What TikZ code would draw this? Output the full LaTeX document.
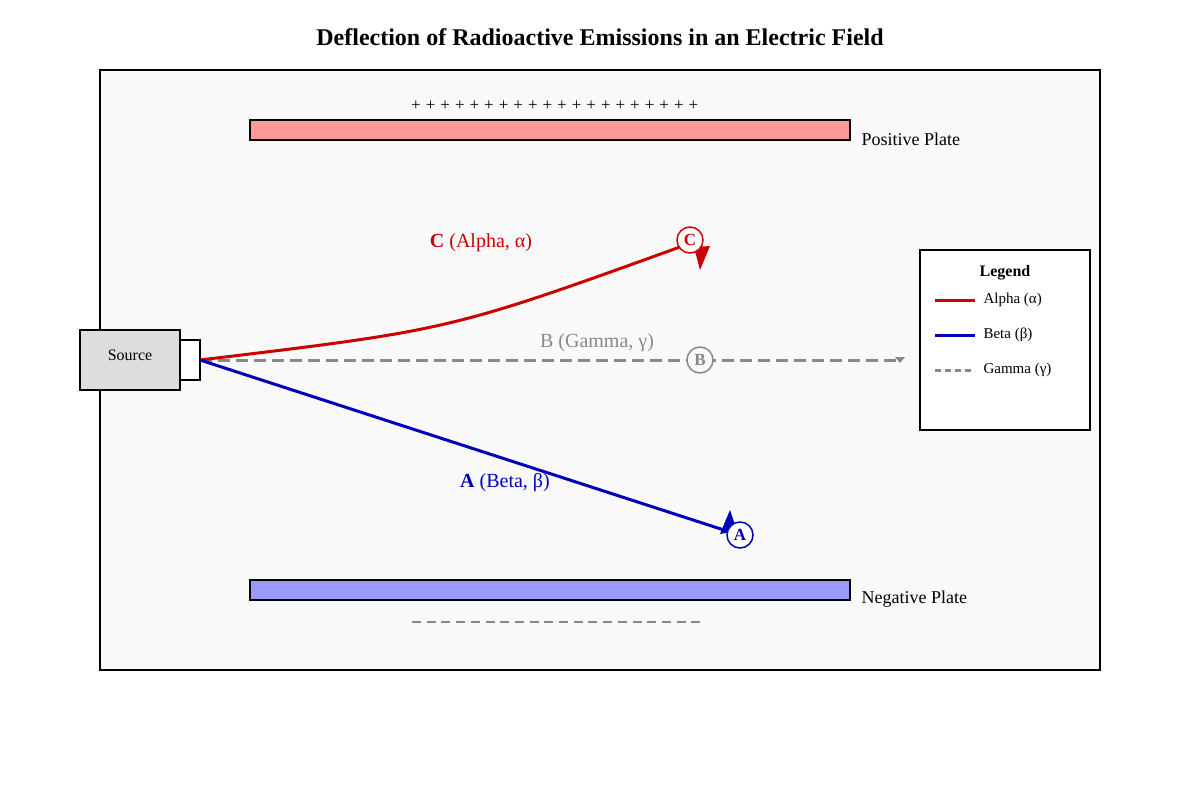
\documentclass[tikz,border=0pt]{standalone}
\usepackage{fontspec}
\setmainfont{Liberation Serif}
\definecolor{alphacol}{HTML}{CC0000}
\definecolor{betacol}{HTML}{0000BB}
\definecolor{gammacol}{HTML}{888888}
\definecolor{bgcol}{HTML}{F9F9F9}
\tikzset{
  plate/.style={draw=black, line width=1.5pt},
  ray/.style={line width=3pt},
  tag/.style={circle, draw, line width=1.5pt, fill=white, inner sep=1pt, minimum size=26pt, font=\fontsize{17}{17}\selectfont\bfseries},
  lbl/.style={font=\fontsize{20}{22}\selectfont},
  legtext/.style={anchor=west, font=\fontsize{15}{17}\selectfont}
}
\begin{document}
\begin{tikzpicture}[line cap=butt, line join=miter, x=1pt, y=-1pt]
  \useasboundingbox (0,0) rectangle (1200,800);

  \node[font=\fontsize{24}{28}\selectfont\bfseries] (title) at (600,37) {Deflection of Radioactive Emissions in an Electric Field};
  \draw[line width=1.5pt, fill=bgcol] (100,70) rectangle (1100,670);

  % plates
  \draw[plate, fill={rgb,255:red,255;green,153;blue,153}] (250,120) rectangle (850,140);
  \draw[plate, fill={rgb,255:red,153;green,153;blue,255}] (250,580) rectangle (850,600);
  \node[lbl, anchor=west, font=\fontsize{18}{20}\selectfont] (pos) at (858,139) {Positive Plate};
  \node[lbl, anchor=west, font=\fontsize{18}{20}\selectfont] (neg) at (858,599) {Negative Plate};
  \foreach \i in {0,...,19}
    \node[font=\fontsize{17}{17}\selectfont, inner sep=0pt] at (416+\i*14.6,106) {+};
  \draw[gammacol, line width=1.5pt, dash pattern=on 9pt off 5.7pt] (412,622) -- (700,622);

  % source
  \draw[line width=1.5pt, fill={rgb,255:red,221;green,221;blue,221}] (80,330) rectangle (180,390);
  \node[font=\fontsize{16}{18}\selectfont] (src) at (130,355) {Source};
  \draw[line width=1.5pt, fill=white] (180,340) rectangle (200,380);
  \coordinate (o) at (200,360);

  % rays
  \coordinate (gend) at (897,360);
  \draw[ray, gammacol, dash pattern=on 12pt off 6pt] (o) -- (gend);
  \fill[gammacol] (895,357) -- (905,357) -- (900,363) -- cycle;
  \node[tag, draw=gammacol, text=gammacol, fill=bgcol] (B) at (700,360) {B};

  \coordinate (cend) at (680,247);
  \draw[ray, alphacol] (o) .. controls (450,330) .. (cend);
  \fill[alphacol] (694,247) -- (710,246) -- (700,270) -- cycle;
  \node[tag, draw=alphacol, text=alphacol] (C) at (690,240) {C};

  \coordinate (aend) at (727,531);
  \draw[ray, betacol] (o) -- (aend);
  \fill[betacol] (720,534) -- (737,531) -- (730,510) -- cycle;
  \node[tag, draw=betacol, text=betacol] (A) at (740,535) {A};

  \node[lbl, text=alphacol] (cl) at (481,243) {\textbf{C} (Alpha, α)};
  \node[lbl, text=gammacol] (bl) at (597,343) {B (Gamma, γ)};
  \node[lbl, text=betacol] (al) at (505,483) {\textbf{A} (Beta, β)};

  % legend
  \draw[line width=1.2pt, fill=white] (920,250) rectangle (1090,430);
  \node[font=\fontsize{16}{18}\selectfont\bfseries] (leg) at (1005,273) {Legend};
  \draw[ray, alphacol] (935,300) -- (975,300);
  \node[legtext] at (980,300) {Alpha (α)};
  \draw[ray, betacol] (935,335) -- (975,335);
  \node[legtext] at (980,335) {Beta (β)};
  \draw[ray, gammacol, dash pattern=on 6pt off 4pt] (935,370) -- (975,370);
  \node[legtext] at (980,370) {Gamma (γ)};
\end{tikzpicture}
\end{document}
